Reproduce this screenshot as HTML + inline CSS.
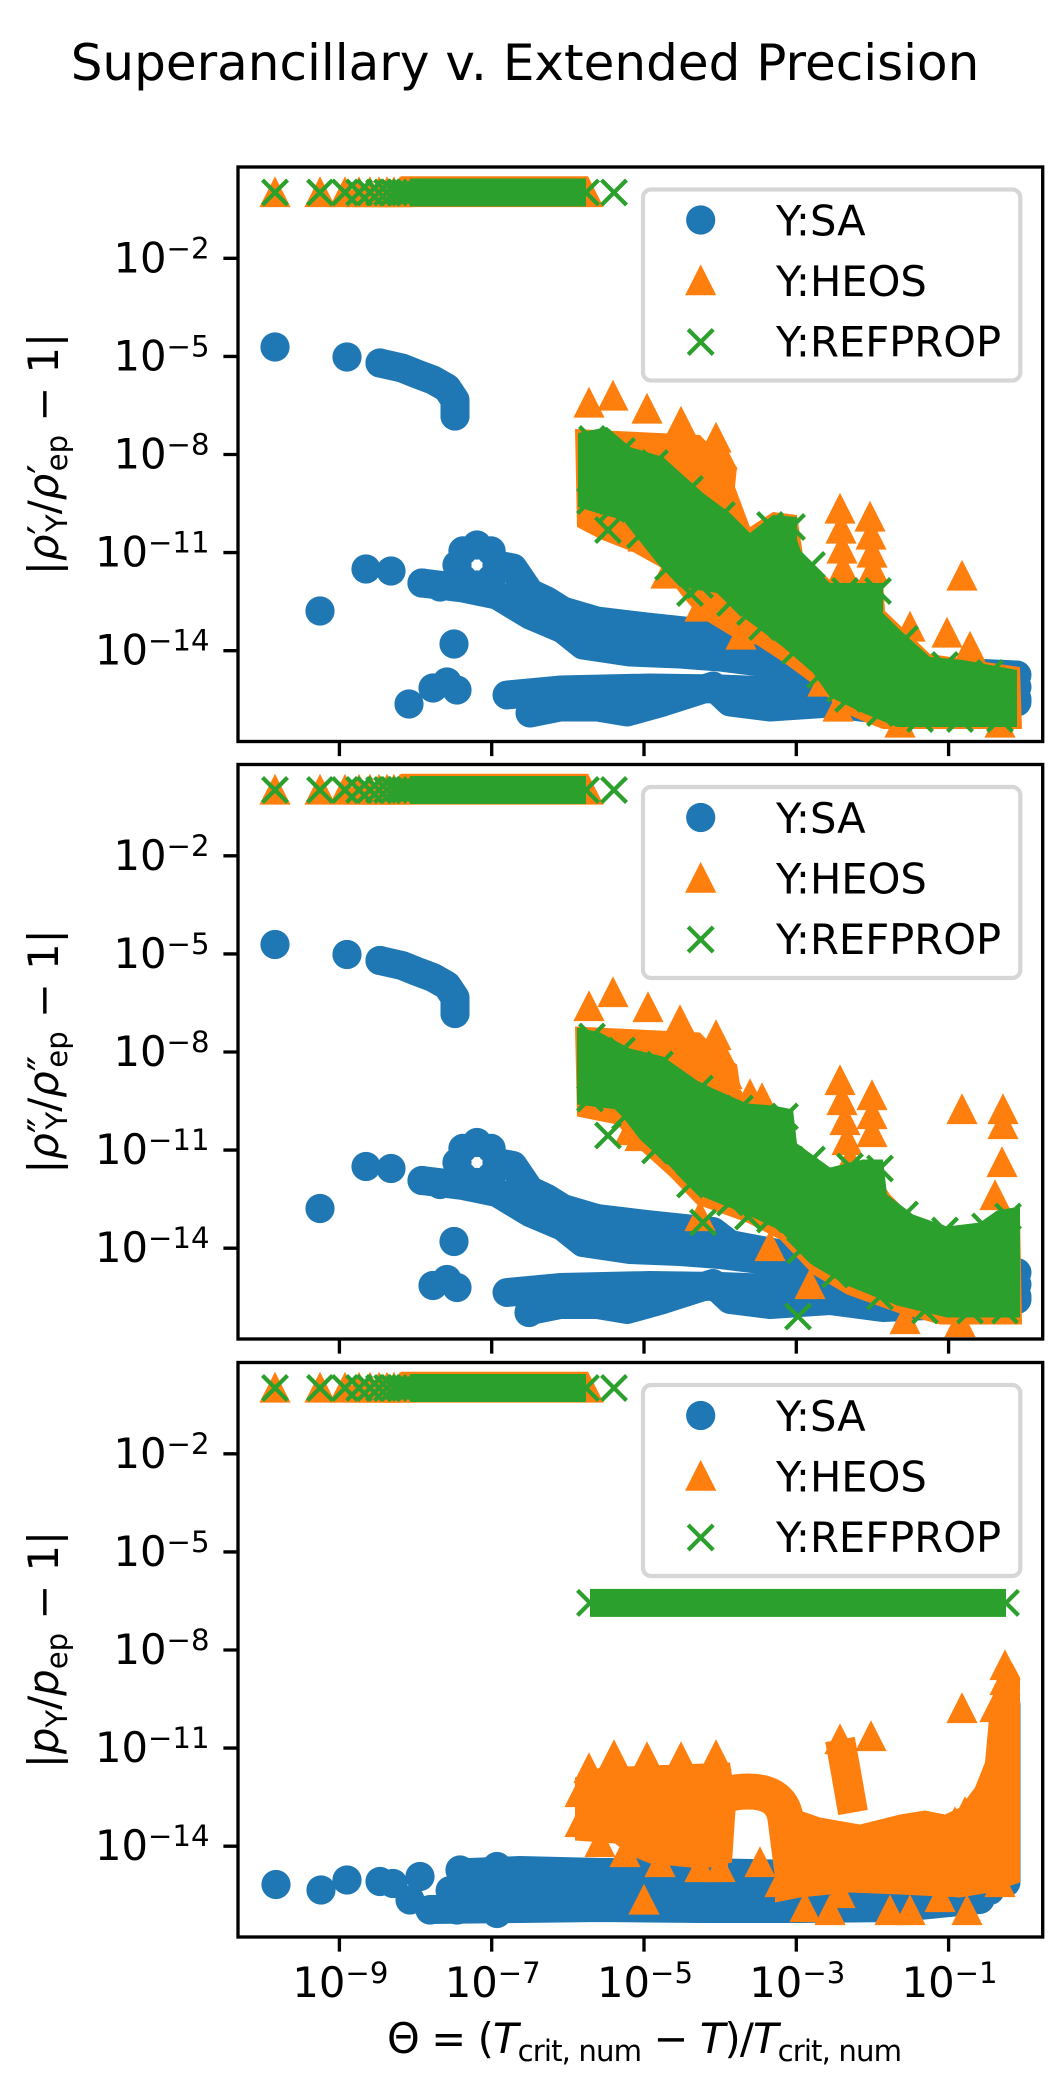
<!DOCTYPE html>
<html><head><meta charset="utf-8"><style>
html,body{margin:0;padding:0;background:#fff;}
svg{display:block;}
text{font-family:"DejaVu Sans","Liberation Sans",sans-serif;fill:#000;}
</style></head><body>
<svg width="1050" height="2100" viewBox="0 0 1050 2100" xmlns="http://www.w3.org/2000/svg">
<defs>
<circle id="c" r="14.6" fill="#1f77b4"/>
<polygon id="t" points="0,-16.2 -15.6,14.6 15.6,14.6" fill="#ff7f0e"/>
<path id="x" d="M-12.5,-12.5L12.5,12.5M-12.5,12.5L12.5,-12.5" stroke="#2ca02c" stroke-width="4.2" fill="none"/>
<clipPath id="cp"><rect x="238" y="0" width="804.7" height="574.5"/></clipPath>

<g id="band">
<use href="#t" x="275" y="25.5"/><use href="#t" x="320" y="25.5"/><use href="#t" x="345" y="25.5"/><use href="#t" x="359" y="25.5"/><use href="#t" x="370" y="25.5"/><use href="#t" x="379" y="25.5"/><use href="#t" x="387" y="25.5"/><use href="#t" x="394" y="25.5"/><use href="#t" x="400" y="25.5"/>
<polygon points="386,40.1 401,9.3 588,9.3 603.6,40.1" fill="#ff7f0e"/>
<use href="#x" x="275" y="25.5"/><use href="#x" x="320" y="25.5"/><use href="#x" x="345" y="25.5"/><use href="#x" x="359" y="25.5"/><use href="#x" x="370" y="25.5"/><use href="#x" x="379" y="25.5"/><use href="#x" x="387" y="25.5"/><use href="#x" x="394" y="25.5"/><use href="#x" x="400" y="25.5"/><use href="#x" x="405" y="25.5"/><use href="#x" x="410" y="25.5"/>
<rect x="410" y="11.5" width="176" height="28" fill="#2ca02c"/>
<use href="#x" x="586" y="25.5"/><use href="#x" x="614" y="25.5"/>
</g>

<g id="blueL">
<use href="#c" x="275" y="180"/><use href="#c" x="347" y="190"/><use href="#c" x="380" y="196"/><use href="#c" x="455" y="249"/>
<polyline points="380,196 402,201 417,207 433,213 447,221 455,233 455,249" fill="none" stroke="#1f77b4" stroke-width="29" stroke-linecap="round" stroke-linejoin="round"/>
<use href="#c" x="320" y="444"/><use href="#c" x="366" y="402"/><use href="#c" x="391" y="404"/><use href="#c" x="422" y="416"/><use href="#c" x="440" y="420"/><use href="#c" x="454" y="477"/><use href="#c" x="433" y="521"/><use href="#c" x="447" y="515"/><use href="#c" x="457" y="523"/>
<use href="#c" x="497" y="398"/><use href="#c" x="491.1" y="412.1"/><use href="#c" x="477" y="418"/><use href="#c" x="462.9" y="412.1"/><use href="#c" x="457" y="398"/><use href="#c" x="462.9" y="383.9"/><use href="#c" x="477" y="378"/><use href="#c" x="491.1" y="383.9"/>
<g fill="none" stroke="#1f77b4" stroke-width="29" stroke-linecap="round" stroke-linejoin="round">
<polyline points="497,398 513,401 530,426 547,434 563,444 597,454 647,460 713,467 730,480 783,490 850,497 950,505 1017,508"/>
<polyline points="422,416 463,421 497,428 530,448 563,462 583,478 630,485 680,487 720,490 800,500 900,510 1017,520"/>
<polyline points="507,528 560,523 650,521 720,522 800,525 900,528 1017,532"/>
<polyline points="530,546 560,540 597,540 627,545 663,535 713,519 730,535 770,540 830,536 883,543 950,540 1017,535"/>
</g>
</g>

<g id="axes">
<rect x="238" y="0" width="804.7" height="574.5" fill="none" stroke="#000" stroke-width="3.33"/>
<path d="M223.4,91.3H238M223.4,189.4H238M223.4,287.5H238M223.4,385.6H238M223.4,483.7H238M339.4,574.5V589.1M491.7,574.5V589.1M644,574.5V589.1M796.3,574.5V589.1M948.6,574.5V589.1" stroke="#000" stroke-width="3.33" fill="none"/>
</g>

<g id="legbox">
<rect x="643" y="22.5" width="377.3" height="191" rx="8" fill="#fff" fill-opacity="0.8" stroke="#d6d6d6" stroke-width="4.2"/>
<use href="#c" x="700.7" y="53"/>
<use href="#t" x="700.7" y="113.6"/>
<use href="#x" x="700.7" y="175"/>
</g>
</defs>

<text x="525" y="80" text-anchor="middle" font-size="50">Superancillary v. Extended Precision</text>

<!-- PANEL 1 -->
<g transform="translate(0,167)">
<g clip-path="url(#cp)">
<use href="#band"/>
<use href="#blueL"/>
<use href="#c" x="409" y="537"/>
<polygon fill="#ff7f0e" points="575,262 700,268 716,285 737,300 735,320 750,360 773,345 797,348 803,388 830,413 883,413 885,444 930,487 1020,500 1022,562 883,562 867,556 843,545 817,520 783,495 757,478 733,470 700,450 683,430 660,400 633,385 600,372 577,360"/>
<use href="#t" x="589" y="236"/><use href="#t" x="613" y="229"/><use href="#t" x="647" y="242"/><use href="#t" x="681" y="255"/><use href="#t" x="716" y="271"/><use href="#t" x="722" y="288"/><use href="#t" x="685" y="285"/><use href="#t" x="700" y="305"/>
<use href="#t" x="840" y="342"/><use href="#t" x="841" y="362"/><use href="#t" x="842" y="382"/><use href="#t" x="843" y="402"/>
<use href="#t" x="870" y="350"/><use href="#t" x="871" y="368"/><use href="#t" x="872" y="386"/><use href="#t" x="873" y="402"/>
<use href="#t" x="962" y="409"/><use href="#t" x="910" y="460"/><use href="#t" x="947" y="466"/><use href="#t" x="970" y="480"/><use href="#t" x="823" y="515"/><use href="#t" x="838" y="540"/>
<use href="#t" x="643" y="370"/><use href="#t" x="666" y="407"/><use href="#t" x="700" y="440"/><use href="#t" x="741" y="468"/><use href="#t" x="900" y="556"/><use href="#t" x="1000" y="556"/>
<polygon fill="#2ca02c" points="578,266 607,260 630,280 663,290 703,326 730,346 750,366 773,348 797,350 797,373 803,390 830,416 883,416 883,446 900,463 930,490 963,493 1017,503 1017,560 897,560 863,546 830,530 813,506 783,480 747,453 717,426 680,420 657,396 623,353 597,346 578,340"/>
<g>
<use href="#x" x="592" y="272"/><use href="#x" x="622" y="284"/><use href="#x" x="655" y="296"/><use href="#x" x="690" y="322"/><use href="#x" x="722" y="348"/><use href="#x" x="770" y="358"/><use href="#x" x="792" y="360"/><use href="#x" x="812" y="398"/><use href="#x" x="845" y="424"/><use href="#x" x="878" y="424"/><use href="#x" x="905" y="472"/><use href="#x" x="945" y="498"/><use href="#x" x="990" y="506"/>
<use href="#x" x="590" y="334"/><use href="#x" x="612" y="342"/><use href="#x" x="640" y="368"/><use href="#x" x="668" y="400"/><use href="#x" x="700" y="418"/><use href="#x" x="730" y="436"/><use href="#x" x="762" y="460"/><use href="#x" x="795" y="484"/><use href="#x" x="820" y="508"/><use href="#x" x="848" y="532"/><use href="#x" x="880" y="546"/><use href="#x" x="920" y="552"/><use href="#x" x="960" y="552"/><use href="#x" x="1000" y="552"/>
<use href="#x" x="608" y="363"/><use href="#x" x="690" y="426"/><use href="#x" x="750" y="445"/><use href="#x" x="840" y="522"/>
</g>
</g>
<use href="#legbox"/>
<text x="776" y="68.5" font-size="41.67">Y:SA</text>
<text x="776" y="129" font-size="41.67">Y:HEOS</text>
<text x="776" y="189.5" font-size="41.67">Y:REFPROP</text>
<use href="#axes"/>
<g font-size="41.67" text-anchor="end">
<text x="209.5" y="105.3">10<tspan font-size="29.17" dy="-14">−2</tspan></text>
<text x="209.5" y="203.4">10<tspan font-size="29.17" dy="-14">−5</tspan></text>
<text x="209.5" y="301.5">10<tspan font-size="29.17" dy="-14">−8</tspan></text>
<text x="209.5" y="399.6">10<tspan font-size="29.17" dy="-14">−11</tspan></text>
<text x="209.5" y="497.7">10<tspan font-size="29.17" dy="-14">−14</tspan></text>
</g>
<text transform="translate(58,287) rotate(-90)" text-anchor="middle" font-size="41.67">|<tspan font-style="italic">ρ</tspan><tspan>′</tspan><tspan font-size="29.17" dx="-7" dy="9">Y</tspan><tspan dy="-9">/</tspan><tspan font-style="italic">ρ</tspan><tspan>′</tspan><tspan font-size="29.17" dx="-7" dy="9">ep</tspan><tspan dy="-9"> − 1|</tspan></text>
</g>

<!-- PANEL 2 -->
<g transform="translate(0,764.5)">
<g clip-path="url(#cp)">
<use href="#band"/>
<use href="#blueL"/>
<use href="#c" x="529" y="548"/>
<polygon fill="#ff7f0e" points="575,262 700,268 716,285 737,300 740,320 727,345 770,345 797,385 830,410 870,400 890,430 915,455 950,468 990,462 1020,450 1022,560 940,560 897,548 847,530 813,510 780,475 747,458 697,440 670,412 640,385 617,360 577,352"/>
<use href="#t" x="589" y="242"/><use href="#t" x="613" y="228"/><use href="#t" x="648" y="243"/><use href="#t" x="680" y="256"/><use href="#t" x="716" y="271"/><use href="#t" x="722" y="290"/><use href="#t" x="727" y="310"/>
<use href="#t" x="735" y="333"/><use href="#t" x="750" y="330"/><use href="#t" x="762" y="334"/><use href="#t" x="740" y="340"/>
<use href="#t" x="840" y="316"/><use href="#t" x="842" y="336"/><use href="#t" x="845" y="356"/><use href="#t" x="847" y="376"/><use href="#t" x="850" y="396"/>
<use href="#t" x="872" y="331"/><use href="#t" x="872" y="350"/><use href="#t" x="872" y="368"/>
<use href="#t" x="962" y="345"/><use href="#t" x="1003" y="345"/><use href="#t" x="1003" y="360"/><use href="#t" x="1002" y="398"/><use href="#t" x="995" y="431"/>
<use href="#t" x="700" y="452"/><use href="#t" x="770" y="482"/><use href="#t" x="810" y="520"/><use href="#t" x="905" y="555"/><use href="#t" x="960" y="558"/><use href="#t" x="640" y="372"/><use href="#t" x="630" y="366"/>
<polygon fill="#2ca02c" points="577,263 600,268 630,284 663,292 697,316 713,324 747,339 773,341 793,345 797,379 830,403 863,395 883,395 887,430 913,450 947,462 980,458 997,446 1020,442 1020,553 947,553 897,541 847,521 813,501 780,466 747,450 697,430 670,402 640,375 617,345 577,340"/>
<g>
<use href="#x" x="592" y="272"/><use href="#x" x="622" y="286"/><use href="#x" x="660" y="300"/><use href="#x" x="700" y="324"/><use href="#x" x="740" y="344"/><use href="#x" x="785" y="352"/><use href="#x" x="812" y="395"/><use href="#x" x="850" y="402"/><use href="#x" x="880" y="404"/><use href="#x" x="905" y="450"/><use href="#x" x="945" y="466"/><use href="#x" x="985" y="462"/><use href="#x" x="1008" y="452"/>
<use href="#x" x="590" y="334"/><use href="#x" x="625" y="352"/><use href="#x" x="655" y="386"/><use href="#x" x="690" y="420"/><use href="#x" x="730" y="438"/><use href="#x" x="770" y="455"/><use href="#x" x="800" y="486"/><use href="#x" x="835" y="510"/><use href="#x" x="880" y="532"/><use href="#x" x="925" y="546"/><use href="#x" x="970" y="546"/><use href="#x" x="1005" y="546"/>
<use href="#x" x="608" y="371"/><use href="#x" x="703" y="458"/><use href="#x" x="748" y="452"/><use href="#x" x="798" y="552"/>
</g>
</g>
<use href="#legbox"/>
<text x="776" y="68.5" font-size="41.67">Y:SA</text>
<text x="776" y="129" font-size="41.67">Y:HEOS</text>
<text x="776" y="189.5" font-size="41.67">Y:REFPROP</text>
<use href="#axes"/>
<g font-size="41.67" text-anchor="end">
<text x="209.5" y="105.3">10<tspan font-size="29.17" dy="-14">−2</tspan></text>
<text x="209.5" y="203.4">10<tspan font-size="29.17" dy="-14">−5</tspan></text>
<text x="209.5" y="301.5">10<tspan font-size="29.17" dy="-14">−8</tspan></text>
<text x="209.5" y="399.6">10<tspan font-size="29.17" dy="-14">−11</tspan></text>
<text x="209.5" y="497.7">10<tspan font-size="29.17" dy="-14">−14</tspan></text>
</g>
<text transform="translate(58,287) rotate(-90)" text-anchor="middle" font-size="41.67">|<tspan font-style="italic">ρ</tspan><tspan>″</tspan><tspan font-size="29.17" dx="-12" dy="9">Y</tspan><tspan dy="-9">/</tspan><tspan font-style="italic">ρ</tspan><tspan>″</tspan><tspan font-size="29.17" dx="-12" dy="9">ep</tspan><tspan dy="-9"> − 1|</tspan></text>
</g>

<!-- PANEL 3 -->
<g transform="translate(0,1362.5)">
<g clip-path="url(#cp)">
<use href="#band"/>
<use href="#c" x="276" y="522"/><use href="#c" x="321" y="527.5"/><use href="#c" x="347" y="517.5"/><use href="#c" x="380" y="519"/><use href="#c" x="393" y="521"/><use href="#c" x="410" y="537.5"/><use href="#c" x="420" y="514"/><use href="#c" x="430" y="547.5"/><use href="#c" x="457" y="547.5"/><use href="#c" x="460" y="507.5"/><use href="#c" x="497" y="551"/><use href="#c" x="497" y="504"/>
<g fill="none" stroke="#1f77b4" stroke-width="29" stroke-linecap="round" stroke-linejoin="round">
<polyline points="470,510 520,508 600,510 700,510 800,512 900,512 990,512"/>
<polyline points="430,547 520,546 600,545 700,546 800,546 900,545 980,537"/>
<polyline points="450,528 990,528"/>
<polyline points="1006,342 1006,520"/>
</g>
<rect x="590" y="226.4" width="416" height="28" fill="#2ca02c"/>
<use href="#x" x="590" y="240.4"/><use href="#x" x="1006" y="240.4"/>
<polygon fill="#ff7f0e" points="575,478 575,415 600,405 730,400 736,440 732,500 700,506 650,501 630,493 615,481"/>
<use href="#t" x="589" y="406"/><use href="#t" x="614" y="393"/><use href="#t" x="647" y="395"/><use href="#t" x="681" y="395"/><use href="#t" x="716" y="393"/>
<use href="#t" x="580" y="430"/><use href="#t" x="580" y="460"/><use href="#t" x="600" y="480"/><use href="#t" x="625" y="490"/><use href="#t" x="660" y="500"/><use href="#t" x="700" y="505"/><use href="#t" x="720" y="505"/>
<path d="M710,505 L710,455 Q712,429 748,429 Q784,429 786,460 L795,530" fill="none" stroke="#ff7f0e" stroke-width="36" stroke-linejoin="round"/>
<polygon fill="#ff7f0e" points="775,450 800,448 820,455 860,462 900,452 925,448 945,452 960,445 975,425 985,400 990,345 1000,305 1012,300 1020,315 1020,520 990,530 960,535 900,532 850,530 800,535 775,540"/>
<use href="#t" x="805" y="545"/><use href="#t" x="830" y="548"/><use href="#t" x="890" y="548"/><use href="#t" x="910" y="548"/><use href="#t" x="967" y="548"/><use href="#t" x="940" y="535"/><use href="#t" x="1000" y="520"/><use href="#t" x="780" y="520"/><use href="#t" x="760" y="500"/>
<use href="#t" x="1005" y="303"/><use href="#t" x="1005" y="318"/><use href="#t" x="995" y="345"/><use href="#t" x="955" y="460"/><use href="#t" x="965" y="450"/>
<polyline points="840,377 846,410 853,450" fill="none" stroke="#ff7f0e" stroke-width="30"/>
<use href="#t" x="840" y="377"/><use href="#t" x="871" y="374"/><use href="#t" x="962" y="346"/><use href="#t" x="644" y="537.5"/><use href="#t" x="840" y="531"/>
</g>
<use href="#legbox"/>
<text x="776" y="68.5" font-size="41.67">Y:SA</text>
<text x="776" y="129" font-size="41.67">Y:HEOS</text>
<text x="776" y="189.5" font-size="41.67">Y:REFPROP</text>
<use href="#axes"/>
<g font-size="41.67" text-anchor="end">
<text x="209.5" y="105.3">10<tspan font-size="29.17" dy="-14">−2</tspan></text>
<text x="209.5" y="203.4">10<tspan font-size="29.17" dy="-14">−5</tspan></text>
<text x="209.5" y="301.5">10<tspan font-size="29.17" dy="-14">−8</tspan></text>
<text x="209.5" y="399.6">10<tspan font-size="29.17" dy="-14">−11</tspan></text>
<text x="209.5" y="497.7">10<tspan font-size="29.17" dy="-14">−14</tspan></text>
</g>
<text transform="translate(58,287) rotate(-90)" text-anchor="middle" font-size="41.67">|<tspan font-style="italic">p</tspan><tspan font-size="29.17" dy="9">Y</tspan><tspan dy="-9">/</tspan><tspan font-style="italic">p</tspan><tspan font-size="29.17" dy="9">ep</tspan><tspan dy="-9"> − 1|</tspan></text>
</g>

<!-- X tick labels -->
<g font-size="41.67" text-anchor="middle">
<text x="340.4" y="1997">10<tspan font-size="29.17" dy="-14">−9</tspan></text>
<text x="492.7" y="1997">10<tspan font-size="29.17" dy="-14">−7</tspan></text>
<text x="645" y="1997">10<tspan font-size="29.17" dy="-14">−5</tspan></text>
<text x="797.3" y="1997">10<tspan font-size="29.17" dy="-14">−3</tspan></text>
<text x="949.6" y="1997">10<tspan font-size="29.17" dy="-14">−1</tspan></text>
</g>
<text x="387" y="2053" textLength="515" lengthAdjust="spacing" font-size="41.67">Θ = (<tspan font-style="italic">T</tspan><tspan font-size="29.17" dy="8">crit, num</tspan><tspan dy="-8"> − </tspan><tspan font-style="italic">T</tspan>)/<tspan font-style="italic">T</tspan><tspan font-size="29.17" dy="8">crit, num</tspan></text>
</svg>
</body></html>
